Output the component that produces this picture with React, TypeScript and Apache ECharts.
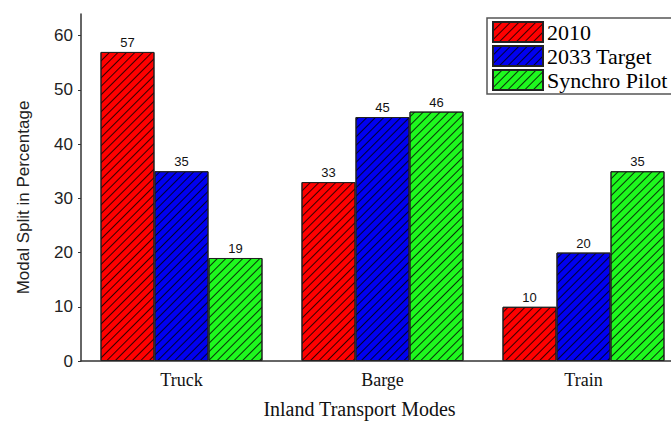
import React, { useEffect, useRef } from "react";
import * as echarts from "echarts";

const categories = ["Truck", "Barge", "Train"];
const seriesNames = ["2010", "2033 Target", "Synchro Pilot"];
const values2010 = [57, 33, 10];
const values2033 = [35, 45, 20];
const valuesPilot = [19, 46, 35];
const yTicks = [0, 10, 20, 30, 40, 50, 60];

const colors = ["#ff0000", "#0000f0", "#1ef81e"];

export default function App() {
  const ref = useRef<HTMLDivElement>(null);
  useEffect(() => {
    if (!ref.current) return;
    const chart = echarts.init(ref.current, undefined, { renderer: "svg" });
    const decal = {
      symbol: "rect",
      symbolSize: 1,
      color: "rgba(0,0,0,0.8)",
      dashArrayX: [1, 0],
      dashArrayY: [1, 4.5],
      rotation: -Math.PI / 4,
    };
    const data = [values2010, values2033, valuesPilot];
    chart.setOption({
      animation: false,
      backgroundColor: "#ffffff",
      grid: { left: 81, top: 14, width: 603, bottom: 58, containLabel: false },
      legend: {
        orient: "vertical",
        left: 487,
        top: 18,
        itemWidth: 50,
        itemHeight: 20,
        itemGap: 2,
        padding: [3, 30, 3, 5],
        borderColor: "#555",
        borderWidth: 1.5,
        backgroundColor: "#fff",
        icon: "rect",
        textStyle: {
          fontFamily: "Liberation Serif, Times New Roman, serif",
          fontSize: 22,
          lineHeight: 20,
          color: "#000",
          padding: [0, 0, 0, -1],
        },
        data: seriesNames,
      },
      xAxis: {
        type: "category",
        data: categories,
        axisLine: { lineStyle: { color: "#333", width: 1.5 } },
        axisTick: { show: false },
        axisLabel: { fontFamily: "Liberation Serif, Times New Roman, serif", fontSize: 18, color: "#111", margin: 10 },
        name: "Inland Transport Modes",
        nameLocation: "middle",
        nameGap: 38,
        nameTextStyle: {
          fontFamily: "Liberation Serif, Times New Roman, serif",
          fontSize: 20,
          color: "#111",
          padding: [0, 46, 0, 0],
        },
      },
      yAxis: {
        type: "value",
        min: yTicks[0],
        max: 64,
        interval: 10,
        axisLine: { show: true, lineStyle: { color: "#333", width: 1.5 } },
        axisTick: { show: true, length: 3, lineStyle: { color: "#333" } },
        splitLine: { show: false },
        axisLabel: { fontFamily: "Liberation Sans, Arial, sans-serif", fontSize: 17, color: "#222", margin: 8, showMaxLabel: false },
        name: "Modal Split in Percentage",
        nameLocation: "middle",
        nameGap: 49,
        nameTextStyle: {
          fontFamily: "Liberation Sans Narrow, Arial Narrow, sans-serif",
          fontSize: 17,
          color: "#222",
          padding: [0, 20, 0, 0],
        },
      },
      series: seriesNames.map((name, i) => ({
        name,
        type: "bar",
        data: data[i],
        barGap: "0%",
        barCategoryGap: "19.4%",
        itemStyle: { color: colors[i], borderColor: "#222", borderWidth: 1, decal },
        label: {
          show: true,
          position: "top",
          distance: 3,
          fontFamily: "Liberation Sans, Arial, sans-serif",
          fontSize: 13,
          color: "#111",
        },
      })),
    });
    return () => chart.dispose();
  }, []);
  return (
    <div style={{ position: "fixed", left: 0, top: 0, width: 671, height: 424, overflow: "hidden" }}>
      <div ref={ref} style={{ width: 740, height: 424 }} />
    </div>
  );
}
